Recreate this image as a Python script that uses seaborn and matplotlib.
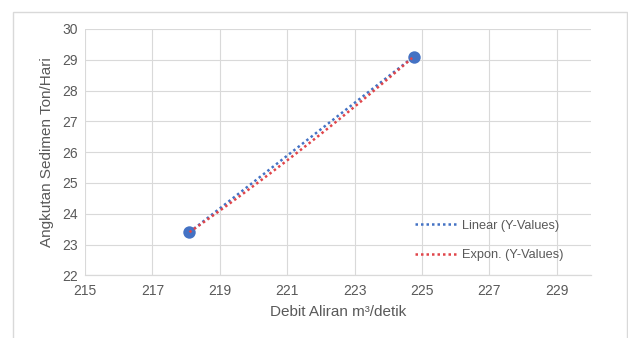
import numpy as np
import pandas as pd
import matplotlib
matplotlib.use("Agg")
import matplotlib.pyplot as plt
import seaborn as sns
from matplotlib.patches import Rectangle

# Observed discharge vs. sediment transport
debit = [218.1, 224.75]
sedimen = [23.4, 29.1]

x_ticks = [215, 217, 219, 221, 223, 225, 227, 229]
y_ticks = [22, 23, 24, 25, 26, 27, 28, 29, 30]

sns.set_theme(style="whitegrid")
plt.rcParams["font.family"] = ["Liberation Sans", "DejaVu Sans"]

text_col = "#595959"
grid_col = "#D9D9D9"
blue = "#4472C4"
red = "#E0454A"

fig = plt.figure(figsize=(6.28, 3.38), dpi=100)
fig.patch.set_facecolor("white")
ax = fig.add_axes([85 / 628, 1 - 275.3 / 338, (590.5 - 85) / 628, (275.3 - 29) / 338])

df = pd.DataFrame({"x": debit, "y": sedimen})

# trendlines fitted to the two observations
xs = np.linspace(min(debit), max(debit), 100)
lin = np.polyfit(debit, sedimen, 1)
expo = np.polyfit(debit, np.log(sedimen), 1)
trend = pd.DataFrame({
    "x": xs,
    "lin": np.polyval(lin, xs),
    "exp": np.exp(np.polyval(expo, xs)),
})

sns.scatterplot(data=df, x="x", y="y", ax=ax, s=80, color=blue,
                edgecolor=blue, linewidth=0, zorder=3, legend=False)
sns.lineplot(data=trend, x="x", y="lin", ax=ax, color=blue, lw=1.8,
             label="Linear (Y-Values)", zorder=4)
sns.lineplot(data=trend, x="x", y="exp", ax=ax, color=red, lw=1.8,
             label="Expon. (Y-Values)", zorder=5)
for ln in ax.get_lines():
    ln.set_linestyle((0, (1.0, 1.2)))

ax.set_xlim(215, 230)
ax.set_ylim(22, 30)
ax.set_xticks(x_ticks)
ax.set_yticks(y_ticks)
ax.grid(True, color=grid_col, lw=0.8)
ax.set_axisbelow(True)
for side in ["top", "right", "left"]:
    ax.spines[side].set_visible(False)
ax.spines["bottom"].set_color(grid_col)
ax.spines["bottom"].set_linewidth(0.9)
ax.tick_params(axis="both", length=0, labelsize=10, colors=text_col, pad=6)
ax.tick_params(axis="y", pad=5)

ax.set_xlabel("Debit Aliran m\u00b3/detik", fontsize=11, color=text_col, labelpad=5)
ax.set_ylabel("Angkutan Sedimen Ton/Hari", fontsize=11, color=text_col, labelpad=6)

leg = ax.legend(loc="upper left", bbox_to_anchor=(0.63, 0.272), frameon=False,
                fontsize=9.2, labelcolor=text_col, handlelength=3.2,
                handletextpad=0.5, labelspacing=1.35)

# chart frame
fig.patches.append(Rectangle((13 / 628, -0.05), (627 - 13) / 628, 1 - 12 / 338 + 0.05,
                             transform=fig.transFigure, fill=False,
                             edgecolor="#D9D9D9", lw=1.0))

fig.savefig("out.png", dpi=100, facecolor="white")
